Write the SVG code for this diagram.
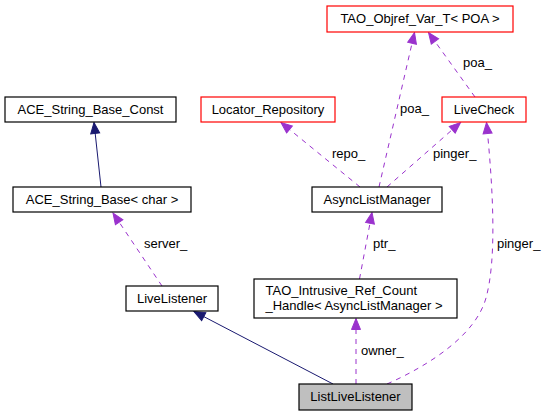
<svg xmlns="http://www.w3.org/2000/svg" width="545" height="416" viewBox="0 0 545 416">
<style>
text{font-family:"Liberation Sans",Arial,sans-serif;font-size:13px;fill:#000}
.n rect{fill:#fff;stroke:#000;stroke-width:1.2}
.n.r rect{stroke:#ff0000}
.n.g rect{fill:#bfbfbf}
.n text{text-anchor:middle}
.inh{fill:none;stroke:#191970;stroke-width:1}
.use{fill:none;stroke:#9a32cd;stroke-width:1;stroke-dasharray:5,5}
</style>
<defs>
<marker id="ai" markerUnits="userSpaceOnUse" markerWidth="14" markerHeight="12" refX="11" refY="0" orient="auto" viewBox="-1 -6 13 12" overflow="visible">
<path d="M0,-4.5 L11,0 L0,4.5 z" fill="#191970" stroke="#191970" stroke-width="1"/>
</marker>
<marker id="au" markerUnits="userSpaceOnUse" markerWidth="14" markerHeight="12" refX="11" refY="0" orient="auto" viewBox="-1 -6 13 12" overflow="visible">
<path d="M0,-4.5 L11,0 L0,4.5 z" fill="#9a32cd" stroke="#9a32cd" stroke-width="1"/>
</marker>
</defs>
<rect width="545" height="416" fill="#fff"/>
<g id="edges">
<path class="inh" d="M101,187 L94,122.5" marker-end="url(#ai)"/>
<path class="use" d="M162,286 L113,213" marker-end="url(#au)"/>
<path class="inh" d="M333,384 L194,311.5" marker-end="url(#ai)"/>
<path class="use" d="M356,384 L356,318.5" marker-end="url(#au)"/>
<path class="use" d="M387,384 C432,364 476,334 486,298 C497,258 493,188 486.5,122.5" marker-end="url(#au)"/>
<path class="use" d="M359.5,279 L372,212.5" marker-end="url(#au)"/>
<path class="use" d="M360,187 L281,122.5" marker-end="url(#au)"/>
<path class="use" d="M379,187 L414.5,32.5" marker-end="url(#au)"/>
<path class="use" d="M387,187 L460.5,122.5" marker-end="url(#au)"/>
<path class="use" d="M475,97 L428.5,32.5" marker-end="url(#au)"/>
<text x="144" y="248">server_</text>
<text x="373" y="248">ptr_</text>
<text x="497" y="248">pinger_</text>
<text x="361" y="355">owner_</text>
<text x="332" y="158">repo_</text>
<text x="433" y="158">pinger_</text>
<text x="400" y="113">poa_</text>
<text x="463" y="67">poa_</text>
</g>
<g id="n_tao_objref" class="n r"><rect x="327" y="6" width="186" height="26"/><text x="420" y="22.5">TAO_Objref_Var_T&lt; POA &gt;</text></g>
<g id="n_locator" class="n r"><rect x="201" y="97" width="134" height="25"/><text x="268" y="113.5">Locator_Repository</text></g>
<g id="n_livecheck" class="n r"><rect x="442" y="97" width="84" height="25"/><text x="484" y="113.5">LiveCheck</text></g>
<g id="n_ace_const" class="n"><rect x="5" y="97" width="171" height="25"/><text x="90.5" y="113.5">ACE_String_Base_Const</text></g>
<g id="n_ace_base" class="n"><rect x="13" y="187" width="178" height="25"/><text x="102" y="203.5">ACE_String_Base&lt; char &gt;</text></g>
<g id="n_async" class="n"><rect x="312" y="187" width="130" height="25"/><text x="377" y="203.5">AsyncListManager</text></g>
<g id="n_livelistener" class="n"><rect x="126" y="286" width="92" height="25"/><text x="172" y="302.5">LiveListener</text></g>
<g id="n_tao_intrusive" class="n"><rect x="254" y="279" width="203" height="39"/><text x="265.5" y="295" style="text-anchor:start">TAO_Intrusive_Ref_Count</text><text x="265.5" y="309.5" style="text-anchor:start">_Handle&lt; AsyncListManager &gt;</text></g>
<g id="n_listlive" class="n g"><rect x="299" y="384" width="113" height="26"/><text x="355.5" y="400.5">ListLiveListener</text></g>
</svg>
